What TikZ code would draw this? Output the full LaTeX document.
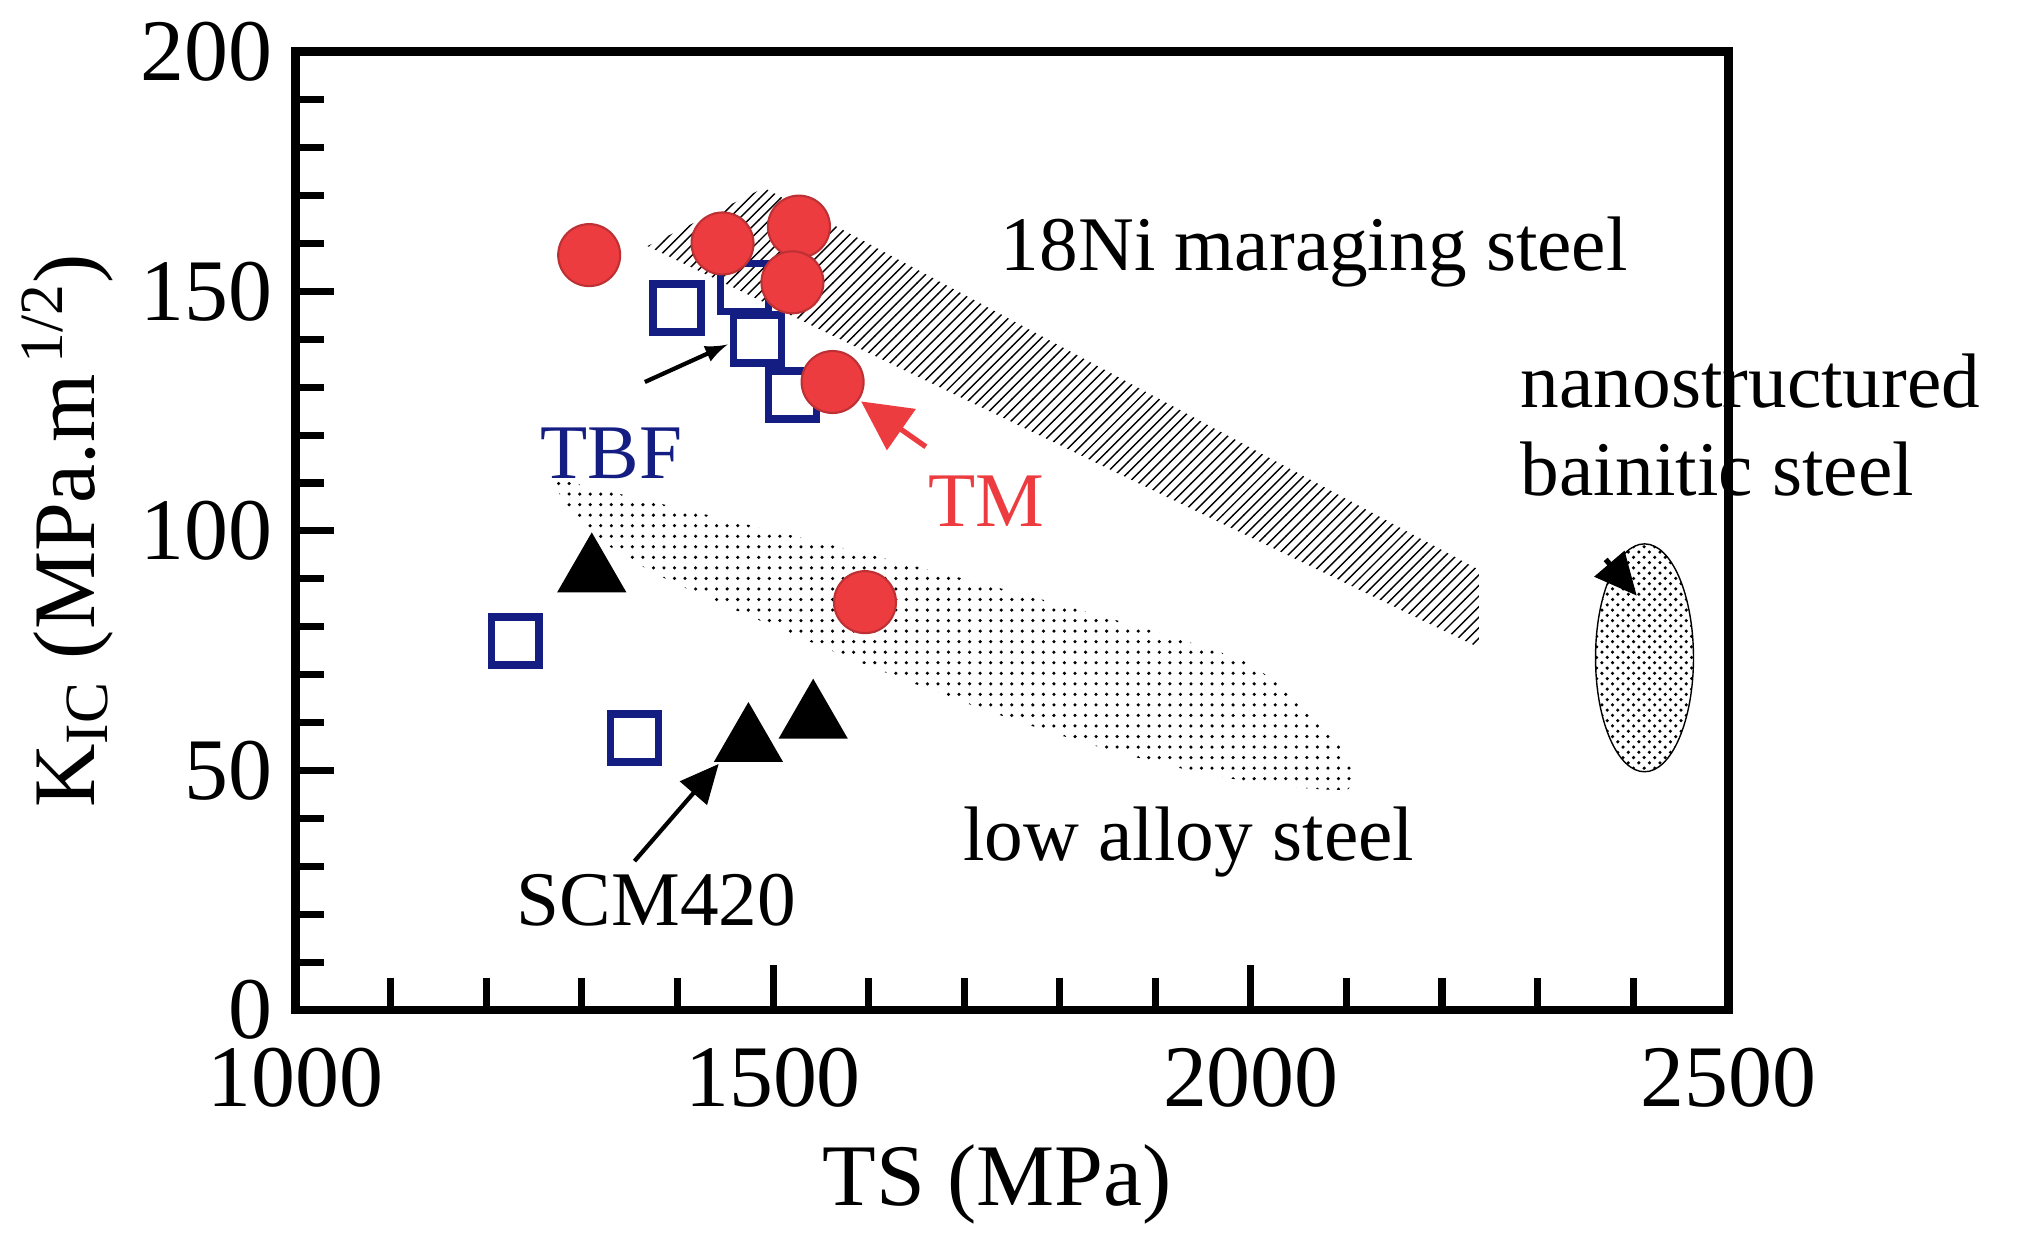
\documentclass[tikz,border=0pt]{standalone}
\usepackage{fontspec}
\setmainfont{Liberation Serif}
\usetikzlibrary{patterns,shapes.geometric,arrows.meta}
\definecolor{rd}{RGB}{236,60,64}
\definecolor{nv}{RGB}{20,30,130}
\begin{document}
\begin{tikzpicture}[x=0.01295cm,y=-0.01295cm,
  lab/.style={font=\fontsize{25}{28}\selectfont},
  txt/.style={font=\fontsize{22}{25}\selectfont},
  rc/.style={circle,fill=rd,draw=rd!80!black,line width=0.6pt,minimum size=0.62cm,inner sep=0pt},
  sq/.style={draw=nv,line width=2.2pt,minimum size=0.48cm,inner sep=0pt},
  tri/.style={regular polygon,regular polygon sides=3,fill=black,minimum size=0.8cm,inner sep=0pt},
  ar/.style={-latex,line width=1.2pt}]
\useasboundingbox (0,0) rectangle (1560,967.6);
% regions
\fill[pattern=north east lines] (500,190) -- (590,145) -- (1142,440) -- (1142,500) -- cycle;
\fill[pattern=dots] (430,370) .. controls (600,410) and (850,470) .. (960,510) .. controls (1020,545) and (1060,600) .. (1040,610) .. controls (900,610) and (700,530) .. (520,450) .. controls (460,420) and (430,395) .. (430,370) -- cycle;
\node (nano) [ellipse,draw=black,pattern=crosshatch dots,minimum width=0.98cm,minimum height=2.28cm,inner sep=0pt] at (1270,508) {};
% axes
\draw[line width=2.5pt] (228,40) rectangle (1335,780);
\foreach \i in {1,...,19}{\pgfmathsetmacro\yy{780-\i*37}
  \pgfmathsetmacro\len{mod(\i,5)==0?30:22}
  \draw[line width=2pt] (228,\yy) -- ++(\len,0);}
\foreach \i in {1,...,14}{\pgfmathsetmacro\xx{228+\i*73.8}
  \pgfmathsetmacro\len{mod(\i,5)==0?35:25}
  \draw[line width=2pt] (\xx,780) -- ++(0,-\len);}
\draw[line width=2pt] (1335,40) -- ++(-6,0);
\foreach \v/\k in {200/0,150/1,100/2,50/3,0/4}
  \node[lab,anchor=east] at (220,40+\k*185) {\v};
\foreach \v/\k in {1000/0,1500/1,2000/2,2500/3}
  \node[lab,anchor=north] at (228+\k*369,800) {\v};
\node[lab] (xl) at (770,915) {TS (MPa)};
\node[lab,rotate=90] (yl) at (52,410) {K\textsubscript{IC} (MPa.m\textsuperscript{\,1/2})};
% squares
\node[sq] (s1) at (523,238) {};
\node[sq] (s2) at (575,222) {};
\node[sq] (s3) at (585,262) {};
\node[sq] (s4) at (612,305) {};
\node[sq] (s5) at (398,495) {};
\node[sq] (s6) at (490,570) {};
% circles
\node[rc] (c1) at (455,197) {};
\node[rc] (c2) at (558,188) {};
\node[rc] (c3) at (617,175) {};
\node[rc] (c4) at (612,218) {};
\node[rc] (c5) at (643,295) {};
\node[rc] (c6) at (668,465) {};
% triangles
\node[tri] (t1) at (457,442) {};
\node[tri] (t2) at (578,573) {};
\node[tri] (t3) at (628,555) {};
% labels
\node[txt] (ni) at (1015,195) {18Ni maraging steel};
\node[txt,align=left,anchor=west] (na) at (1165,328) {nanostructured\\bainitic steel};
\node[txt,text=nv] (tbf) at (472,350) {TBF};
\node[txt,text=rd] (tm) at (762,387) {TM};
\node[txt] (las) at (918,650) {low alloy steel};
\node[txt] (scm) at (507,695) {SCM420};
% arrows
\coordinate (a1) at (498,295); \coordinate (a1e) at (562,266);
\draw[ar] (a1) -- (a1e);
\coordinate (a2) at (490,665); \coordinate (a2e) at (555,590);
\draw[line width=1.2pt,-{Triangle[length=11pt,width=10pt]}] (a2) -- (a2e);
\coordinate (a3) at (715,345); \coordinate (a3e) at (665,310);
\draw[line width=1.5pt,draw=rd,-{Triangle[length=14pt,width=14pt]}] (a3) -- (a3e);
\coordinate (a4) at (1240,432); \coordinate (a4e) at (1264,460);
\draw[line width=1.5pt,-{Triangle[length=12pt,width=11pt]}] (a4) -- (a4e);
\end{tikzpicture}
\end{document}
